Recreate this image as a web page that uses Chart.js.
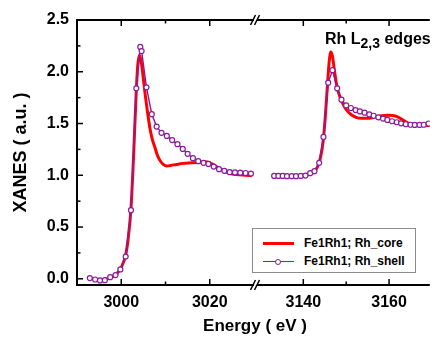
<!DOCTYPE html>
<html><head><meta charset="utf-8">
<script src="https://cdn.jsdelivr.net/npm/chart.js@4"></script>
<style>
html,body{margin:0;padding:0;background:#fff;}
#wrap{position:relative;width:435px;height:338px;overflow:hidden;font-family:"Liberation Sans",Arial,sans-serif;font-weight:bold;color:#000;}
canvas{position:absolute;left:0;top:0;}
#xtitle{position:absolute;left:255px;top:317px;transform:translateX(-50%);font-size:17px;line-height:17px;white-space:nowrap;}
#note{position:absolute;left:325px;top:31px;font-size:16px;line-height:16px;white-space:nowrap;}
#note sub{font-size:14px;vertical-align:-4px;line-height:0;}
#legend{position:absolute;left:252px;top:228px;width:164px;height:45px;border:1px solid #8c8c8c;box-sizing:border-box;background:#fff;}
.row{position:absolute;left:0;height:16px;width:100%;}
.samp{position:absolute;left:10px;width:31px;top:8px;height:0;}
.mk{position:absolute;left:12px;top:-3.5px;width:4px;height:4px;border-radius:50%;background:#fff;}
.lab{position:absolute;left:51px;top:1px;font-size:12px;line-height:14px;white-space:nowrap;}
</style></head>
<body><div id="wrap">
<canvas id="cL" width="435" height="338"></canvas>
<canvas id="cR" width="435" height="338"></canvas>
<div id="xtitle">Energy ( eV )</div>
<div id="note">Rh L<sub>2,3</sub> edges</div>
<div id="legend"></div>
</div>
<script>
const FONT = "'Liberation Sans', Arial, sans-serif";
const seriesNames = ['Fe1Rh1; Rh_core', 'Fe1Rh1; Rh_shell'];
const seriesColors = ['#ff0000', '#8b1a9b'];
const leftRange = [2990, 3030];
const rightRange = [3129.2, 3169.5];
const yRange = [-0.06, 2.5];
const leftTicks = [3000, 3020];
const leftMinor = [3010];
const rightTicks = [3140, 3160];
const rightMinor = [3150];
const yTicks = [0, 0.5, 1.0, 1.5, 2.0, 2.5];
const yMinor = [0.25, 0.75, 1.25, 1.75, 2.25];

// Rh L3 edge (left segment)
const coreLeftE = [2993.5, 2995, 2996.5, 2998, 2999, 3000, 3001, 3001.6, 3002.2, 3002.8, 3003.3, 3003.7, 3004.1, 3004.5, 3005, 3005.5, 3006, 3006.5, 3007, 3007.6, 3008.2, 3008.8, 3009.5, 3010.3, 3011.2, 3012.5, 3014, 3016, 3017.5, 3019, 3020, 3021, 3022, 3023, 3024.5, 3026, 3028, 3029.5];
const coreLeftY = [0.0, -0.01, -0.005, 0.02, 0.05, 0.11, 0.23, 0.4, 0.68, 1.2, 1.72, 2.05, 2.16, 2.1, 1.93, 1.75, 1.59, 1.45, 1.35, 1.27, 1.19, 1.14, 1.105, 1.09, 1.095, 1.105, 1.115, 1.12, 1.125, 1.13, 1.12, 1.1, 1.07, 1.045, 1.02, 1.008, 1.0, 0.995];
const shellLeftE = [2992.9, 2994.1, 2995.2, 2996.3, 2997.5, 2998.7, 2999.8, 3001.0, 3002.2, 3003.4, 3004.3, 3004.6, 3005.7, 3006.9, 3008.0, 3009.1, 3010.3, 3011.5, 3012.7, 3013.9, 3015.0, 3016.2, 3017.4, 3018.6, 3019.7, 3020.9, 3022.1, 3023.3, 3024.5, 3025.7, 3026.9, 3028.1, 3029.3];
const shellLeftY = [0.007, -0.007, -0.016, -0.013, 0.016, 0.036, 0.09, 0.215, 0.663, 1.84, 2.24, 2.20, 1.85, 1.59, 1.47, 1.41, 1.38, 1.34, 1.30, 1.255, 1.207, 1.165, 1.136, 1.12, 1.11, 1.084, 1.059, 1.043, 1.03, 1.028, 1.025, 1.022, 1.016];

// Rh L2 edge (right segment)
const coreRightE = [3133, 3136, 3139, 3140.5, 3141.5, 3142.5, 3143.3, 3144, 3144.6, 3145.1, 3145.6, 3146, 3146.4, 3146.8, 3147.2, 3147.7, 3148.2, 3148.8, 3149.5, 3150.3, 3151.2, 3152.3, 3153.5, 3155, 3156.5, 3158, 3159.5, 3160.8, 3162, 3163, 3164, 3165, 3166, 3167.5, 3169.5];
const coreRightY = [0.99, 0.99, 0.992, 0.998, 1.01, 1.035, 1.08, 1.17, 1.32, 1.55, 1.85, 2.08, 2.19, 2.15, 2.03, 1.89, 1.8, 1.73, 1.67, 1.62, 1.585, 1.56, 1.55, 1.55, 1.56, 1.572, 1.58, 1.578, 1.565, 1.54, 1.515, 1.498, 1.488, 1.482, 1.48];
const shellRightE = [3133.2, 3134.2, 3135.2, 3136.2, 3137.3, 3138.3, 3139.4, 3140.5, 3141.6, 3142.6, 3143.7, 3144.7, 3145.8, 3146.8, 3147.9, 3148.9, 3150.0, 3151.1, 3152.2, 3153.2, 3154.3, 3155.4, 3156.4, 3157.5, 3158.6, 3159.6, 3160.7, 3161.8, 3162.8, 3163.9, 3165.0, 3166.0, 3167.1, 3168.1, 3169.2];
const shellRightY = [0.994, 0.994, 0.994, 0.991, 0.991, 0.991, 0.994, 0.997, 1.02, 1.04, 1.12, 1.37, 1.895, 2.015, 1.84, 1.73, 1.675, 1.65, 1.63, 1.617, 1.605, 1.588, 1.575, 1.56, 1.548, 1.535, 1.522, 1.512, 1.502, 1.493, 1.488, 1.486, 1.486, 1.488, 1.5];

const pts = (xs, ys) => xs.map((v, i) => ({x: v, y: ys[i]}));

function makeDatasets(cE, cY, sE, sY) {
  return [
    {label: seriesNames[0], data: pts(cE, cY), borderColor: seriesColors[0], backgroundColor: seriesColors[0],
     borderWidth: 3, pointRadius: 0, cubicInterpolationMode: 'monotone', order: 2, fill: false},
    {label: seriesNames[1], data: pts(sE, sY), borderColor: seriesColors[1], backgroundColor: '#fff',
     borderWidth: 1.4, pointRadius: 2.5, pointBorderWidth: 1.2, pointBackgroundColor: '#fff',
     pointBorderColor: seriesColors[1], tension: 0, order: 1, fill: false}
  ];
}

const framePlugin = {
  id: 'frame',
  afterDatasetsDraw(chart, args, o) {
    const {ctx, chartArea: a} = chart;
    const x = chart.scales.x, y = chart.scales.y;
    ctx.save();
    ctx.strokeStyle = '#000';
    ctx.lineCap = 'butt';
    const seg = (x1, y1, x2, y2, w) => { ctx.lineWidth = w; ctx.beginPath(); ctx.moveTo(x1, y1); ctx.lineTo(x2, y2); ctx.stroke(); };
    const l0 = o.leftAxis ? a.left - 1 : a.left;
    seg(l0, a.top, a.right, a.top, 2);
    seg(l0, a.bottom, a.right, a.bottom, 2);
    if (o.leftAxis) seg(a.left, a.top - 1, a.left, a.bottom + 1, 2);
    x.ticks.forEach(t => { const p = x.getPixelForValue(t.value); seg(p, a.bottom, p, a.bottom - 6, 1.5); seg(p, a.top, p, a.top + 6, 1.5); });
    o.xMinor.forEach(v => { const p = x.getPixelForValue(v); seg(p, a.bottom, p, a.bottom - 3.5, 1.5); seg(p, a.top, p, a.top + 3.5, 1.5); });
    if (o.leftAxis) {
      y.ticks.forEach(t => { const p = y.getPixelForValue(t.value); seg(a.left, p, a.left + 6, p, 1.5); });
      o.yMinor.forEach(v => { const p = y.getPixelForValue(v); seg(a.left, p, a.left + 3.5, p, 1.5); });
    }
    if (o.breakMark) {
      [a.top, a.bottom].forEach(yy => {
        seg(a.left - 6.5, yy + 5, a.left - 1.5, yy - 5, 1.5);
        seg(a.left - 2.5, yy + 5, a.left + 2.5, yy - 5, 1.5);
      });
    }
    ctx.restore();
  }
};

const tickFont = {family: FONT, size: 16, weight: 'bold'};

function xScale(range, ticks) {
  return {
    type: 'linear', min: range[0], max: range[1],
    afterBuildTicks: s => { s.ticks = ticks.map(v => ({value: v})); },
    afterFit: s => { s.height = 53; },
    grid: {display: false, drawTicks: false}, border: {display: false},
    ticks: {font: tickFont, color: '#000', padding: 8, maxRotation: 0, callback: v => String(v)}
  };
}

new Chart(document.getElementById('cL'), {
  type: 'line',
  data: {datasets: makeDatasets(coreLeftE, coreLeftY, shellLeftE, shellLeftY)},
  options: {
    responsive: false, animation: false, devicePixelRatio: 1,
    layout: {padding: {top: 20, right: 181, left: 0, bottom: 0}},
    plugins: {legend: {display: false}, tooltip: {enabled: false},
      frame: {leftAxis: true, xMinor: leftMinor, yMinor: yMinor, breakMark: false}},
    scales: {
      x: xScale(leftRange, leftTicks),
      y: {
        type: 'linear', min: yRange[0], max: yRange[1],
        afterBuildTicks: s => { s.ticks = yTicks.map(v => ({value: v})); },
        afterFit: s => { s.width = 77; },
        grid: {display: false, drawTicks: false}, border: {display: false},
        ticks: {font: tickFont, color: '#000', padding: 8, callback: v => Number(v).toFixed(1)},
        title: {display: true, text: 'XANES ( a.u. )', color: '#000', font: {family: FONT, size: 18, weight: 'bold'}, padding: {top: 10, bottom: 0}}
      }
    }
  },
  plugins: [framePlugin]
});

new Chart(document.getElementById('cR'), {
  type: 'line',
  data: {datasets: makeDatasets(coreRightE, coreRightY, shellRightE, shellRightY)},
  options: {
    responsive: false, animation: false, devicePixelRatio: 1,
    layout: {padding: {top: 20, right: 0, left: 257, bottom: 0}},
    plugins: {legend: {display: false}, tooltip: {enabled: false},
      frame: {leftAxis: false, xMinor: rightMinor, yMinor: [], breakMark: true}},
    scales: {
      x: xScale(rightRange, rightTicks),
      y: {type: 'linear', display: false, min: yRange[0], max: yRange[1]}
    }
  },
  plugins: [framePlugin]
});

// legend built from the series
const lg = document.getElementById('legend');
seriesNames.forEach((name, i) => {
  const row = document.createElement('div');
  row.className = 'row';
  row.style.top = (i === 0 ? 6 : 24) + 'px';
  const s = document.createElement('div');
  s.className = 'samp';
  s.style.borderTop = (i === 0 ? 3 : 1.4) + 'px solid ' + seriesColors[i];
  s.style.top = (i === 0 ? 7 : 8) + 'px';
  if (i === 1) {
    const m = document.createElement('div');
    m.className = 'mk';
    m.style.border = '1.2px solid ' + seriesColors[i];
    s.appendChild(m);
  }
  const t = document.createElement('div');
  t.className = 'lab';
  t.textContent = name;
  row.appendChild(s); row.appendChild(t);
  lg.appendChild(row);
});
</script>
</body></html>
